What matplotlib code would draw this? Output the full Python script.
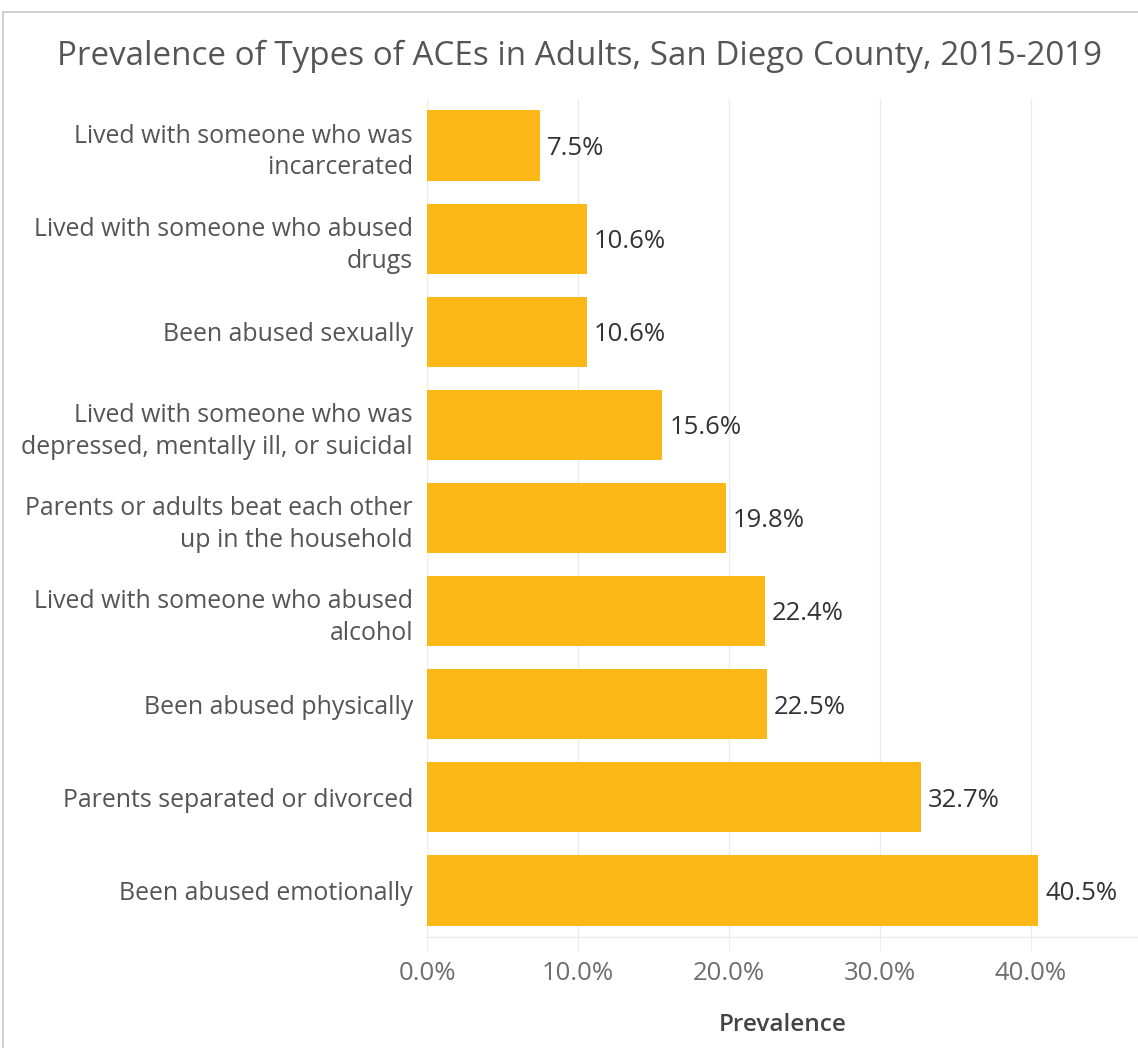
import matplotlib.pyplot as plt
from matplotlib.lines import Line2D

# ACE types, top to bottom as shown
categories = ['Lived with someone who was\nincarcerated',
              'Lived with someone who abused\ndrugs',
              'Been abused sexually',
              'Lived with someone who was\ndepressed, mentally ill, or suicidal',
              'Parents or adults beat each other\nup in the household',
              'Lived with someone who abused\nalcohol',
              'Been abused physically',
              'Parents separated or divorced',
              'Been abused emotionally']
prevalence = [7.5, 10.6, 10.6, 15.6, 19.8, 22.4, 22.5, 32.7, 40.5]
xticks = [0, 10, 20, 30, 40]
xticklabels = ['0.0%', '10.0%', '20.0%', '30.0%', '40.0%']

plt.rcParams['font.family'] = ['Open Sans', 'DejaVu Sans']

fig = plt.figure(figsize=(11.38, 10.48), dpi=100)
ax = fig.add_axes([427/1138, 1-937/1048, 1-427/1138, (937-99)/1048])

ypos = list(range(len(categories)))
ax.barh(ypos, prevalence, height=0.755, color='#FCB817', zorder=2)
ax.set_ylim(len(categories)-0.5, -0.5)
ax.set_xlim(0, 47.1)

for y, v in zip(ypos, prevalence):
    ax.text(v + 0.45, y + 0.03, '%.1f%%' % v, va='center', ha='left',
            fontsize=18.5, color='#333333')

ax.set_yticks(ypos)
ax.set_yticklabels(categories, fontsize=17.9, color='#555555', linespacing=1.36)
ax.set_xticks(xticks)
ax.set_xticklabels(xticklabels, fontsize=18.5, color='#6e6e6e')
ax.tick_params(axis='y', length=0, pad=10)
ax.tick_params(axis='x', length=10, color='#eeeeee', pad=7)
ax.grid(axis='x', color='#ebebeb', linewidth=1, zorder=0)
for s in ['top', 'right', 'left']:
    ax.spines[s].set_visible(False)
ax.spines['bottom'].set_color('#e8e8e8')
ax.set_xlabel('Prevalence', fontsize=17.6, color='#444444', fontweight='semibold', labelpad=20)

fig.text(0.509, 1-56/1048, 'Prevalence of Types of ACEs in Adults, San Diego County, 2015-2019',
         ha='center', va='center', fontsize=23.9, color='#555555')

# outer frame
fig.add_artist(Line2D([3/1138, 1], [1-12/1048, 1-12/1048], color='#c8c8c8', lw=1.2))
fig.add_artist(Line2D([3/1138, 3/1138], [0, 1-12/1048], color='#c8c8c8', lw=1.2))

fig.savefig('out.png', dpi=100)
